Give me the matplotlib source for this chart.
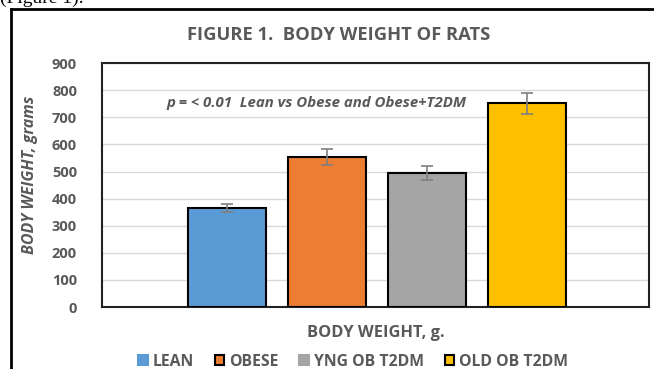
import matplotlib
matplotlib.use("Agg")
import matplotlib.pyplot as plt
from matplotlib.patches import Patch
from matplotlib.lines import Line2D

plt.rcParams['font.family'] = ['Open Sans', 'DejaVu Sans']

groups = ['LEAN', 'OBESE', 'YNG OB T2DM', 'OLD OB T2DM']
weights = [365, 553, 494, 751]
errors = [15, 30, 25, 38]
colors = ['#5B9BD5', '#ED7D31', '#A5A5A5', '#FFC000']
yticks = [0, 100, 200, 300, 400, 500, 600, 700, 800, 900]

txt = '#595959'

fig = plt.figure(figsize=(6.54, 3.69), dpi=100)
ax = fig.add_axes([0.156, 0.168, 0.836, 0.661])

x = list(range(len(groups)))
ax.bar(x, weights, width=0.78, color=colors, edgecolor='black', linewidth=1.5, zorder=3)
ax.errorbar(x, weights, yerr=errors, fmt='none', ecolor='#7F7F7F', elinewidth=1.2,
            capsize=4, capthick=1.2, zorder=4)

ax.set_xlim(-1.25, 4.22)
ax.set_ylim(0, 900)
ax.set_yticks(yticks)
ax.set_xticks([])
ax.yaxis.grid(True, color='#D9D9D9', linewidth=1, zorder=0)
ax.tick_params(axis='y', length=0, pad=18, labelsize=10.5, labelcolor=txt)
for lbl in ax.get_yticklabels():
    lbl.set_fontweight('bold')
for s in ax.spines.values():
    s.set_linewidth(1.5)
    s.set_color('#222222')

ax.set_xlabel('BODY WEIGHT, g.', fontsize=11.8, fontweight='bold', color=txt)
ax.xaxis.set_label_coords(0.5, -0.075)
fig.text(30 / 654, 1 - 175 / 369, 'BODY WEIGHT, grams', rotation=90, ha='center', va='center',
         fontsize=11.5, fontweight='bold', style='italic', color=txt)

fig.text(339 / 654, 1 - 35 / 369, 'FIGURE 1.  BODY WEIGHT OF RATS', ha='center', va='center',
         fontsize=13.2, fontweight='bold', color=txt)
fig.text(167 / 654, 1 - 103 / 369, 'p = < 0.01  Lean vs Obese and Obese+T2DM', ha='left',
         va='center', fontsize=10.8, fontweight='bold', style='italic', color=txt)

# legend: only two of the swatches carry a dark outline
edges = [colors[0], 'black', colors[2], 'black']
handles = [Patch(facecolor=c, edgecolor=e, linewidth=1.5) for c, e in zip(colors, edges)]
fig.legend(handles, groups, loc='center', bbox_to_anchor=(353 / 654, 1 - 362 / 369), ncol=4,
           frameon=False, prop={'weight': 'bold', 'size': 11.3},
           handlelength=0.6, handleheight=0.6, handletextpad=0.3, columnspacing=1.35,
           borderpad=0, labelcolor=txt)

# outer frame of the figure box and caption above it
fig.add_artist(Line2D([11 / 654, 11 / 654], [0, 1 - 9 / 369], color='black', linewidth=2))
fig.add_artist(Line2D([11 / 654, 1], [1 - 9 / 369, 1 - 9 / 369], color='black', linewidth=2))
fig.text(0, 1 - 3 / 369, '(Figure 1).', ha='left', va='baseline', fontsize=14,
         family='Liberation Serif', color='black')

fig.savefig('out.png', dpi=100)
